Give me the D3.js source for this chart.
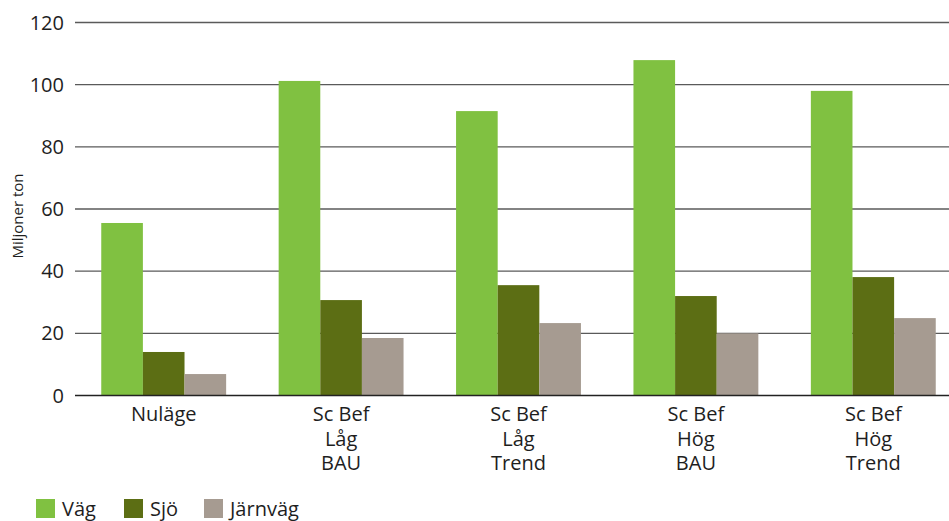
<!DOCTYPE html>
<html>
<head>
<meta charset="utf-8">
<script src="https://cdn.jsdelivr.net/npm/d3@7"></script>
<style>
  body { margin: 0; background: #fff; }
  svg { display: block; font-family: "Open Sans", "Noto Sans", sans-serif; }
</style>
</head>
<body>
<svg id="chart"></svg>
<script>
const width = 949;
const height = 521;

const categories = [
  ["Nuläge"],
  ["Sc Bef", "Låg", "BAU"],
  ["Sc Bef", "Låg", "Trend"],
  ["Sc Bef", "Hög", "BAU"],
  ["Sc Bef", "Hög", "Trend"]
];
const series = ["Väg", "Sjö", "Järnväg"];
const vag = [55.5, 101.2, 91.5, 107.9, 98.0];
const sjo = [14.0, 30.7, 35.5, 32.0, 38.1];
const jarnvag = [6.9, 18.5, 23.3, 20.0, 24.9];
const yTicks = [0, 20, 40, 60, 80, 100, 120];
const colors = ["#80c141", "#5c6e14", "#a69b91"];

const values = [vag, sjo, jarnvag];
const catKeys = categories.map(c => c.join(" "));
const data = catKeys.map((k, i) => ({ key: k, lines: categories[i], vals: values.map(v => v[i]) }));

const svg = d3.select("#chart")
  .attr("width", width)
  .attr("height", height);

const x0 = d3.scaleBand()
  .domain(catKeys)
  .range([75, 962])
  .paddingInner(0.296)
  .paddingOuter(0.148);

const x1 = d3.scaleBand()
  .domain(series)
  .range([0, x0.bandwidth()]);

const y = d3.scaleLinear()
  .domain([0, 120])
  .range([395.5, 22.5]);

// gridlines
svg.append("g")
  .selectAll("line")
  .data(yTicks.filter(d => d > 0))
  .join("line")
  .attr("x1", 75)
  .attr("x2", width)
  .attr("y1", d => y(d))
  .attr("y2", d => y(d))
  .attr("stroke", "#5a5a5a")
  .attr("stroke-width", 1.4);

// tick labels
svg.append("g")
  .selectAll("text")
  .data(yTicks)
  .join("text")
  .attr("x", 64)
  .attr("y", d => y(d))
  .attr("dy", "0.35em")
  .attr("text-anchor", "end")
  .attr("font-size", 20)
  .attr("fill", "#1e1e1e")
  .text(d => d);

svg.append("text")
  .attr("transform", "translate(23,216) rotate(-90)")
  .attr("text-anchor", "middle")
  .attr("font-size", 15)
  .attr("fill", "#1e1e1e")
  .text("Miljoner ton");

// bars
const groups = svg.append("g")
  .selectAll("g")
  .data(data)
  .join("g")
  .attr("transform", d => `translate(${x0(d.key)},0)`);

groups.selectAll("rect")
  .data(d => d.vals.map((v, i) => ({ s: series[i], v, i })))
  .join("rect")
  .attr("x", d => x1(d.s))
  .attr("width", x1.bandwidth())
  .attr("y", d => y(d.v))
  .attr("height", d => y(0) - y(d.v))
  .attr("fill", d => colors[d.i]);

// baseline
svg.append("line")
  .attr("x1", 75)
  .attr("x2", width)
  .attr("y1", y(0))
  .attr("y2", y(0))
  .attr("stroke", "#222")
  .attr("stroke-width", 1.4);

// category labels
const catLabels = svg.append("g")
  .selectAll("text")
  .data(data)
  .join("text")
  .attr("x", d => x0(d.key) + x0.bandwidth() / 2)
  .attr("y", 421)
  .attr("text-anchor", "middle")
  .attr("font-size", 20)
  .attr("fill", "#1e1e1e");

catLabels.selectAll("tspan")
  .data(d => d.lines.map(t => ({ t, x: x0(d.key) + x0.bandwidth() / 2 })))
  .join("tspan")
  .attr("x", d => d.x)
  .attr("dy", (d, i) => i === 0 ? 0 : 24.5)
  .text(d => d.t);

// legend
const legendX = [36, 124, 204];
const legend = svg.append("g")
  .selectAll("g")
  .data(series)
  .join("g")
  .attr("transform", (d, i) => `translate(${legendX[i]},499)`);

legend.append("rect")
  .attr("width", 19)
  .attr("height", 19)
  .attr("fill", (d, i) => colors[i]);

legend.append("text")
  .attr("x", 26)
  .attr("y", 9.5)
  .attr("dy", "0.35em")
  .attr("font-size", 20)
  .attr("fill", "#1e1e1e")
  .text(d => d);
</script>
</body>
</html>
